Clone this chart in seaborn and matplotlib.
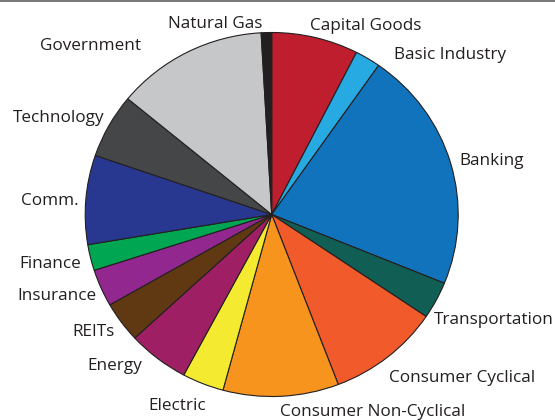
import matplotlib
matplotlib.use("Agg")
import matplotlib.pyplot as plt
import seaborn as sns
from matplotlib.patches import Rectangle

sectors = ["Capital Goods", "Basic Industry", "Banking", "Transportation",
           "Consumer Cyclical", "Consumer Non-Cyclical", "Electric", "Energy",
           "REITs", "Insurance", "Finance", "Comm.", "Technology",
           "Government", "Natural Gas"]
shares = [7.5, 2.2, 21.4, 3.3, 9.7, 10.0, 3.6, 5.3, 3.6, 3.3, 2.3, 7.9, 5.7, 13.1, 0.9]
colors = ["#BE1E2D", "#27AAE1", "#1173BB", "#105E54", "#F15A2B", "#F7941D",
          "#F4EB30", "#9E1F63", "#603913", "#92278F", "#00A651", "#283891",
          "#454648", "#C6C7C9", "#231F20"]

# label layout (left x, baseline y) in pixels from top-left
label_pos = {
    "Capital Goods": (310, 30.5),
    "Basic Industry": (394, 59),
    "Banking": (459, 165),
    "Transportation": (434, 324),
    "Consumer Cyclical": (389, 382),
    "Consumer Non-Cyclical": (280, 415.5),
    "Electric": (148, 410),
    "Energy": (87, 369.5),
    "REITs": (72.7, 335.7),
    "Insurance": (17, 300),
    "Finance": (19, 267.7),
    "Comm.": (20.7, 205),
    "Technology": (13, 121.7),
    "Government": (40, 50),
    "Natural Gas": (168.5, 28.3),
}

sns.set_theme(style="white")
plt.rcParams["font.family"] = ["Open Sans", "DejaVu Sans"]

W, H = 555, 420
fig = plt.figure(figsize=(W / 100, H / 100), dpi=100)
fig.patch.set_facecolor("white")
ax = fig.add_axes([0, 0, 1, 1])

ax.pie(shares, colors=colors, startangle=90, counterclock=False,
       center=(0, 0), radius=1,
       wedgeprops=dict(edgecolor="#231F20", linewidth=0.8))

# map: pie centre at (271.7, 214.5) px, radii 186.5 px (x) and 182 px (y)
cx, cy, rx, ry = 271.7, 214.5, 186.5, 182.0
ax.set_aspect("auto")
ax.set_xlim(-cx / rx, (W - cx) / rx)
ax.set_ylim(-(H - cy) / ry, cy / ry)
ax.set_axis_off()

for name in sectors:
    x, y = label_pos[name]
    fig.text(x / W, 1 - y / H, name, ha="left", va="baseline",
             fontsize=12.3, color="#231F20")

fig.add_artist(Rectangle((0, 1 - 2 / H), 1, 2 / H, transform=fig.transFigure,
                         facecolor="#7a7a7a", edgecolor="none"))

fig.savefig("out.png", dpi=100, facecolor="white")
